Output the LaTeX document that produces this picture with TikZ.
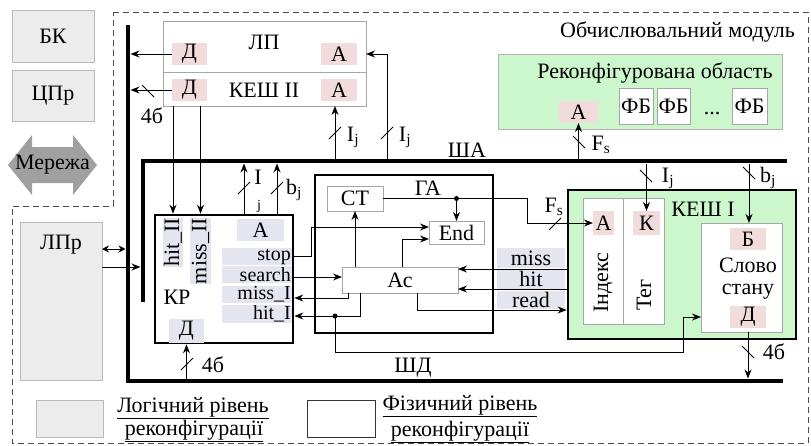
\documentclass[tikz,border=0pt]{standalone}
\usepackage{fontspec}
\setmainfont{Liberation Serif}
\usetikzlibrary{arrows.meta}
\definecolor{pinkc}{RGB}{242,220,219}
\definecolor{lavc}{RGB}{229,229,240}
\definecolor{greenc}{RGB}{204,246,204}
\definecolor{greyc}{RGB}{236,236,236}
\definecolor{greyb}{RGB}{185,185,185}
\definecolor{netc}{RGB}{160,160,160}
\begin{document}
\begin{tikzpicture}[x=1pt,y=-1pt,
  font=\fontsize{22}{24}\selectfont,
  every node/.style={inner sep=0pt},
  box/.style={rectangle, inner sep=0pt, outer sep=0pt},
  lg/.style={box, fill=greyc, draw=greyb, line width=0.8pt},
  pk/.style={box, fill=pinkc},
  lv/.style={box, fill=lavc},
  thinbox/.style={box, fill=white, draw=gray!70, line width=0.8pt},
  thickbox/.style={box, draw=black, line width=2.6pt, outer sep=1.3pt},
  conn/.style={line width=1pt},
  arr/.style={conn, -{Stealth[length=9pt,width=7pt]}},
  darr/.style={conn, {Stealth[length=7pt,width=7pt]}-{Stealth[length=7pt,width=7pt]}},
  bus/.style={line width=4.5pt},
  sl/.style={line width=1pt},
  frame/.style={draw=gray!60!black, dash pattern=on 6pt off 4pt, line width=0.9pt},
  subs/.style={font=\fontsize{14}{16}\selectfont},
  rowtxt/.style={anchor=east, font=\fontsize{20}{22}\selectfont}
]
\useasboundingbox (0,0) rectangle (811,445);

% frame
\draw[frame] (113,12) -- (808,12) -- (808,443) -- (12,443) -- (12,206) -- (113,206) -- cycle;

% coordinates
\coordinate (bLr) at (130.5,0);
\coordinate (bLl) at (125.5,0);
\coordinate (sAl) at (140.5,0);
\coordinate (sAt) at (0,158.5);
\coordinate (sAb) at (0,163.5);
\coordinate (sDt) at (0,378.5);

% left logical blocks
\node[lg, minimum width=82pt, minimum height=52pt] (bk) at (53,36) {БК};
\node[lg, minimum width=82pt, minimum height=51pt] (cpr) at (53,95.5) {ЦПр};
\fill[netc] (8,165) -- (32,135) -- (32,147) -- (73,147) -- (73,135) -- (97,165) -- (73,195) -- (73,183) -- (32,183) -- (32,195) -- cycle;
\node (net) at (52.5,165) {Мережа};
\node[lg, minimum width=82pt, minimum height=158pt] (lpr) at (61,301) {};
\node (lprt) at (61,245) {ЛПр};

% buses
\coordinate (shdTop) at (128,25);
\coordinate (shdCorner) at (128,381);
\coordinate (shdEnd) at (783,381);
\draw[bus] (shdTop) -- (shdCorner) -- (shdEnd);
\coordinate (shaBot) at (143,302);
\coordinate (shaCorner) at (143,161);
\coordinate (shaEnd) at (787,161);
\draw[bus] (shaBot) -- (shaCorner) -- (shaEnd);
\node (shal) at (467,150) {ША};
\node (shdl) at (413,368) {ШД};

% LP / KESH II
\node[thinbox, minimum width=203pt, minimum height=85pt] (lp) at (264.5,63.5) {};
\draw[gray!70, line width=0.8pt] (163,72) -- (366,72);
\node (lpt) at (264,42) {ЛП};
\node (k2t) at (264,90) {КЕШ II};
\node[pk, minimum width=35pt, minimum height=22pt] (lpd) at (189.5,54) {Д};
\node[pk, minimum width=36pt, minimum height=22pt] (lpa) at (339,54) {А};
\node[pk, minimum width=35pt, minimum height=22pt] (k2d) at (189.5,90) {Д};
\node[pk, minimum width=36pt, minimum height=22pt] (k2a) at (339,90) {А};

% KR
\node[thickbox, fill=white, minimum width=138pt, minimum height=128pt] (kr) at (224,279) {};
\node[lv, rotate=90, minimum width=49pt, minimum height=20pt] (hit2) at (173,242.5) {hit\_II};
\node[lv, rotate=90, minimum width=66pt, minimum height=21pt] (miss2) at (200.5,251) {miss\_II};
\node[lv, minimum width=47pt, minimum height=22pt] (kra) at (260.5,230) {А};
\node[lv, minimum width=70pt, minimum height=17pt] (stop) at (257,256.5) {};
\node[lv, minimum width=70pt, minimum height=17pt] (srch) at (257,274.5) {};
\node[lv, minimum width=70pt, minimum height=17pt] (missI) at (257,294.5) {};
\node[lv, minimum width=70pt, minimum height=18pt] (hitI) at (257,314) {};
\node[rowtxt] (stopt) at (291,256.5) {stop};
\node[rowtxt] (srcht) at (291,274.5) {search};
\node[rowtxt] (missIt) at (291,294.5) {miss\_I};
\node[rowtxt] (hitIt) at (291,314) {hit\_I};
\node (krt) at (177,297) {КР};
\node[lv, minimum width=35pt, minimum height=24pt] (krd) at (186.5,331) {Д};

% GA
\node[thickbox, fill=white, minimum width=178pt, minimum height=158pt] (ga) at (404,254) {};
\node (gat) at (428,188) {ГА};
\node[thinbox, minimum width=56pt, minimum height=25pt] (ct) at (355,198.5) {СТ};
\node[thinbox, minimum width=55pt, minimum height=23pt] (end) at (456.5,232.5) {End};
\node[thinbox, minimum width=116pt, minimum height=26pt] (ac) at (400,280) {Ас};

% miss/hit/read labels
\node[lv, minimum width=68pt, minimum height=20pt] (lmiss) at (531,258) {miss};
\node[lv, minimum width=68pt, minimum height=19pt] (lhit) at (531,279) {hit};
\node[lv, minimum width=68pt, minimum height=18pt] (lread) at (531,299.5) {read};

% KESH I
\node[thickbox, fill=greenc, minimum width=228pt, minimum height=149pt] (k1) at (682,264.5) {};
\node[thinbox, minimum width=40pt, minimum height=126pt] (idx) at (603,261) {};
\node[thinbox, minimum width=41pt, minimum height=126pt] (teg) at (643.5,261) {};
\node[pk, minimum width=21pt, minimum height=24pt] (ka) at (603.5,223) {А};
\node[pk, minimum width=27pt, minimum height=24pt] (kk) at (646.5,223) {К};
\node[rotate=90] (idxt) at (603,283) {Індекс};
\node[rotate=90] (tegt) at (644,295) {Тег};
\node (k1t) at (703,209) {КЕШ I};
\node[thinbox, minimum width=81pt, minimum height=109pt] (sw) at (741.5,277.5) {};
\node[pk, minimum width=36pt, minimum height=22pt] (swb) at (748,239) {Б};
\node (swt1) at (748,265) {Слово};
\node (swt2) at (748,292) {стану};
\node[pk, minimum width=36pt, minimum height=22pt] (swd) at (748,317) {Д};

% Reconfigurable area
\node[box, fill=greenc, draw=gray!60, line width=0.8pt, minimum width=284pt, minimum height=75pt] (ro) at (640,91.5) {};
\node (rot) at (655,73) {Реконфігурована область};
\node[pk, minimum width=39pt, minimum height=22pt] (roa) at (578.5,112) {А};
\node[thinbox, minimum width=34pt, minimum height=36pt] (fb1) at (636,106) {ФБ};
\node[thinbox, minimum width=33pt, minimum height=36pt] (fb2) at (673.5,106) {ФБ};
\node[thinbox, minimum width=35pt, minimum height=36pt] (fb3) at (749.5,106) {ФБ};
\node (dots) at (712,114) {...};
\node[anchor=east] (om) at (795,32) {Обчислювальний модуль};

% ---------- connectors ----------
% LP -> left bus
\draw[arr] (lpd.west) -- (lpd.west -| bLr);
\draw[arr] (k2d.west) -- (k2d.west -| bLr);
\draw[sl] (142,85) -- (154,97);
\node (l4b1) at (152,116) {4б};
% LP -> KR
\draw[arr] (lp.south -| hit2.center) -- (kr.north -| hit2.center);
\draw[arr] (lp.south -| miss2.center) -- (kr.north -| miss2.center);
% SHA -> LP
\coordinate (xIj1) at (335,0);
\coordinate (xIj2) at (387,0);
\draw[arr] (sAt -| xIj1) -- (lp.south -| xIj1);
\draw[arr] (sAt -| xIj2) |- (lp.east |- lpa);
\draw[sl] (329,139) -- (341,127);
\draw[sl] (381,139) -- (393,127);
\node (lIj1) at (353,137) {I\textsubscript{j}};
\node (lIj2) at (405,137) {I\textsubscript{j}};
% KR -> SHA
\coordinate (kI) at (244,0);
\coordinate (kB) at (277,0);
\draw[arr] (kr.north -| kI) -- (sAb -| kI);
\draw[arr] (kr.north -| kB) -- (sAb -| kB);
\draw[sl] (238,194) -- (250,182);
\draw[sl] (271,194) -- (283,182);
\node (lI) at (258,177) {I};
\node[subs] (lj) at (259,206) {j};
\node (lbj) at (294,190) {b\textsubscript{j}};
% SHD -> KR
\draw[arr] (sDt -| krd) -- (kr.south -| krd);
\draw[sl] (181,370) -- (193,358);
\node (l4b2) at (213,365) {4б};
% LPr
\coordinate (y249) at (0,249);
\coordinate (y267) at (0,267);
\draw[darr] (lpr.east |- y249) -- (bLl |- y249);
\draw[arr] (lpr.east |- y267) -- (sAl |- y267);
% CT -> KESH I index
\coordinate (cbend) at (527,0);
\draw[arr] (ct.east) -| (cbend |- ka.west) -- (ka.west);
\draw[sl] (549,230) -- (561,218);
\node (lFs1) at (554,207) {F\textsubscript{s}};
\fill (end.north |- ct.east) circle (2.5);
\draw[arr] (end.north |- ct.east) -- (end.north);
% stop -> End
\coordinate (sx) at (311,0);
\coordinate (endA) at ([yshift=5.5pt]end.west);
\draw[arr] (kr.east |- stop) -| (sx |- endA) -- (endA);
% search -> Ac
\coordinate (srchY) at (0,277);
\draw[arr] (kr.east |- srchY) -- (ac.west |- srchY);
% Ac -> miss_I, hit_I
\coordinate (mIy) at (0,298);
\coordinate (mIx) at (348,0);
\coordinate (hIy) at (0,316);
\coordinate (hIx) at (360,0);
\draw[arr] (ac.south -| mIx) |- (kr.east |- mIy);
\draw[arr] (ac.south -| hIx) |- (kr.east |- hIy);
\coordinate (dotD) at (335,316);
\fill (dotD) circle (2.5);
\coordinate (dl) at (0,352);
\coordinate (dx) at (683,0);
\coordinate (dy) at (0,317);
\draw[arr] (dotD) |- (dx |- dl) |- (sw.west |- dy);
% Ac -> CT, End
\draw[arr] (ac.north -| ct.south) -- (ct.south);
\coordinate (aex) at (402,0);
\draw[arr] (ac.north -| aex) |- ([yshift=-6.5pt]end.west);
% miss / hit / read
\coordinate (mY) at (0,269);
\coordinate (hY) at (0,289);
\coordinate (rY) at (0,310);
\coordinate (rX) at (417,0);
\draw[arr] (k1.west |- mY) -- (ac.east |- mY);
\draw[arr] (k1.west |- hY) -- (ac.east |- hY);
\draw[arr] (ac.south -| rX) |- (k1.west |- rY);
% KESH I connectors
\draw[arr] (sw.south -| swd) -- (sDt -| swd);
\draw[sl] (742,346) -- (754,358);
\node (l4b3) at (774,352) {4б};
\draw[arr] (sAb -| kk) -- (kk.north);
\draw[sl] (640,170) -- (652,182);
\node (lIj3) at (668,178) {I\textsubscript{j}};
\coordinate (bjx) at (749,0);
\draw[arr] (sAb -| bjx) -- (sw.north -| bjx);
\draw[sl] (743,167) -- (755,179);
\node (lbj2) at (768,178) {b\textsubscript{j}};
% SHA -> reconfigurable A
\draw[arr] (sAt -| roa) -- (roa.south);
\draw[sl] (573,136) -- (585,148);
\node (lFs2) at (601,145) {F\textsubscript{s}};

% legend
\node[lg, minimum width=67pt, minimum height=37pt] (lg1) at (69.5,418.5) {};
\node (lg1a) at (193,408) {\underline{Логічний рівень}};
\node (lg1b) at (194,431) {\underline{реконфігурації}};
\node[thinbox, draw=black!80, minimum width=68pt, minimum height=37pt] (lg2) at (341,418.5) {};
\node (lg2a) at (460,406) {\underline{Фізичний рівень}};
\node (lg2b) at (460,432) {\underline{реконфігурації}};
\end{tikzpicture}
\end{document}
